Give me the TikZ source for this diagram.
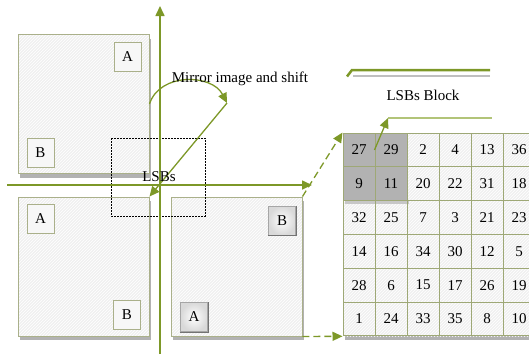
\documentclass[tikz,border=0pt]{standalone}
\usepackage{fontspec}
\setmainfont{Liberation Serif}
\usetikzlibrary{arrows.meta,patterns,shadows}

\definecolor{lsbgreen}{RGB}{125,152,40}
\definecolor{paleline}{RGB}{178,196,120}
\definecolor{sqborder}{RGB}{170,176,138}
\definecolor{cellborder}{RGB}{158,168,118}

\begin{document}
\begin{tikzpicture}[x=1pt,y=-1pt,font=\fontsize{15}{17}\selectfont,>={Triangle[length=10pt,width=9pt]},
  axis/.style={draw=lsbgreen,line width=1.6pt},
  link/.style={draw=lsbgreen,line width=1.3pt},
  square/.style={drop shadow={shadow xshift=2pt,shadow yshift=-4pt,fill=black!30,opacity=1},
    preaction={fill=black!6},preaction={pattern=north east lines,pattern color=white},
    draw=sqborder,line width=0.9pt,minimum width=131pt,minimum height=139pt},
  tag/.style={draw=sqborder,line width=0.9pt,fill=black!3,minimum width=27pt,minimum height=29pt,inner sep=0pt},
  bevel/.style={draw=black!35,line width=1pt,inner color=white,outer color=black!15,minimum width=27pt,minimum height=29pt,inner sep=0pt},
  cell/.style={draw=cellborder,line width=1pt,minimum width=32pt,minimum height=33.8pt,inner sep=0pt}]
\useasboundingbox (0,0) rectangle (529,354);
\clip (0,0) rectangle (529,354);

% the three blocks around the axes
\node[square] (tl) at (83.5,104) {};
\node[square] (bl) at (83.5,266.5) {};
\node[square] (br) at (236.5,266.5) {};
\node[tag] (tlA) at (127.5,56.5) {A};
\node[tag] (tlB) at (40.5,152.5) {B};
\node[tag] (blA) at (40.5,218.5) {A};
\node[tag] (blB) at (127,314.5) {B};
\node[bevel] (brB) at (282,220.5) {B};
\node[bevel] (brA) at (194,317) {A};
\draw[black!55,line width=1pt] (brB.south west) -- (brB.south east) -- (brB.north east);
\draw[black!55,line width=1pt] (brA.south west) -- (brA.south east) -- (brA.north east);

\draw[dash pattern=on 1.6pt off 1.4pt,line width=1pt] (111,138) rectangle (205,216);

% axes
\coordinate (ytop) at (160,6);
\coordinate (ybot) at (160,354);
\coordinate (xleft) at (7,185);
\coordinate (xright) at (312,185);
\draw[axis,->] (ybot) -- (ytop);
\draw[axis,->] (xleft) -- (xright);

% mirror and shift
\coordinate (mirrortip) at (227,103);
\draw[link,->] (tl.east) .. controls (160,72) and (212,74) .. (mirrortip);
\draw[link,->] (mirrortip) -- (bl.north east);
\node (mirrorlabel) at (240,79) {Mirror image and shift};
\node (lsbs) at (159,177) {LSBs};

% LSBs block
\fill[black!30] (345,336) rectangle (529,340);
\fill[black!6] (343,133) rectangle (535,336);
\fill[pattern=north east lines,pattern color=white] (343,133) rectangle (535,336);
\fill[black!22] (345,200.6) rectangle (409,204);
\fill[black!30] (343,133) rectangle (407,200.6);
\foreach \row [count=\r] in {{27,29,2,4,13,36},{9,11,20,22,31,18},{32,25,7,3,21,23},{14,16,34,30,12,5},{28,6,15,17,26,19},{1,24,33,35,8,10}}{
  \foreach \val [count=\c] in \row {
    \node[cell] (c\r\c) at ({343+32*(\c-0.5)},{133+33.8*(\r-0.5)}) {\val};
  }
}

\draw[link,dashed,dash pattern=on 7pt off 4pt,->] (br.north east) -- (c11.north west);
\draw[link,dashed,dash pattern=on 7pt off 4pt,->] (br.south east) -- (c61.south west);

% title bars
\draw[black!25,line width=2.5pt] (353,76) -- (490,76);
\draw[lsbgreen,line width=2.5pt] (347,76.5) -- (352,70) -- (490,70);
\node (blocklabel) at (423,95) {LSBs Block};
\coordinate (barstart) at (388,118);
\coordinate (barend) at (492,118);
\draw[paleline,line width=1.3pt] (barstart) -- (barend);
\draw[link,->] (c12.west) -- (barstart);
\end{tikzpicture}
\end{document}
